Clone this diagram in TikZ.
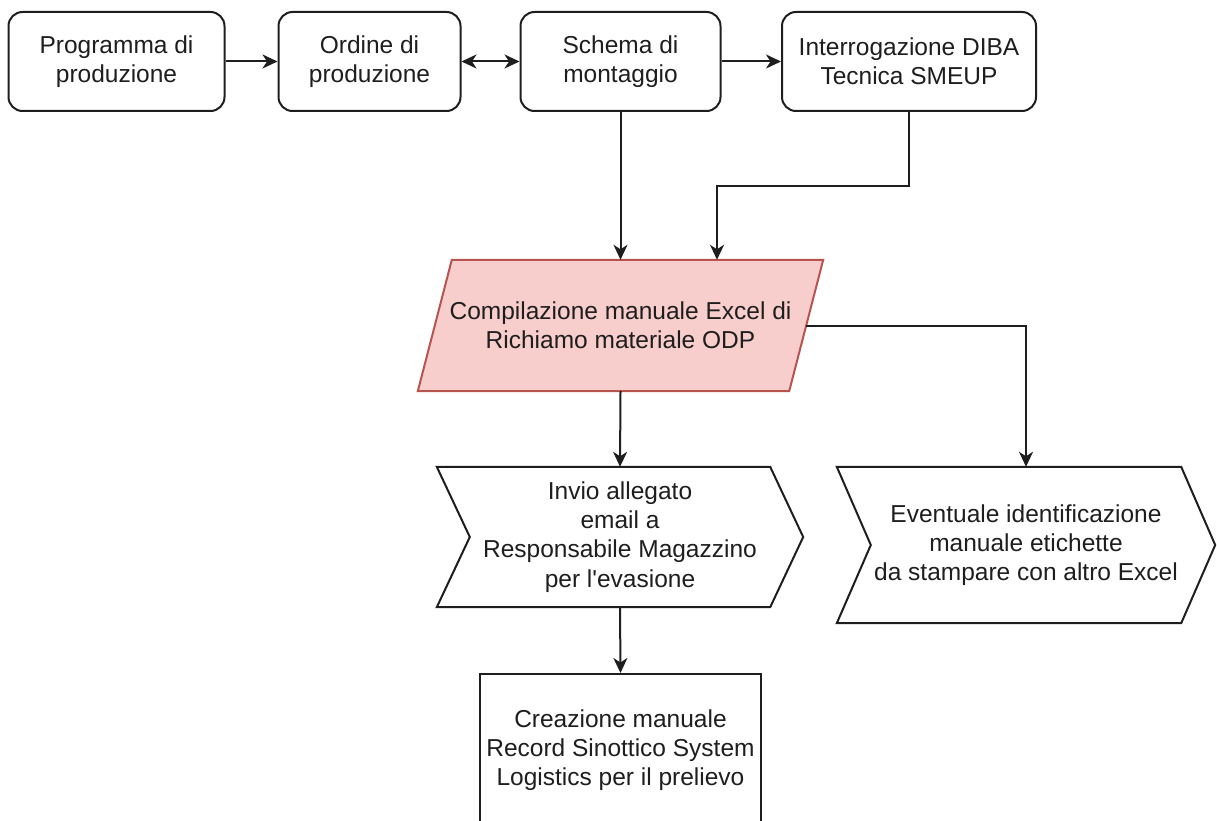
\documentclass[tikz,border=0pt]{standalone}
\usepackage{fontspec}
\setmainfont{Liberation Sans}[Ligatures=TeXOff]
\usetikzlibrary{arrows.meta}
\definecolor{ink}{HTML}{1E1E1E}
\definecolor{redfill}{HTML}{F8CECC}
\definecolor{redline}{HTML}{B85450}

\begin{document}
\begin{tikzpicture}[x=1pt,y=-1pt,
  lbl/.style={align=center, inner sep=0pt, text=ink,
              font=\fontsize{24.5}{29.3}\selectfont},
  procbox/.style={lbl, draw=ink, line width=2pt, rounded corners=14pt,
                  minimum height=99pt},
  plainbox/.style={lbl, minimum width=#1},
  outline/.style={draw=ink, line width=2pt, line join=miter},
  link/.style={draw=ink, line width=2pt, -{Stealth[length=15pt, width=14pt, inset=4.5pt]}},
  twoway/.style={draw=ink, line width=2pt,
               {Stealth[length=15pt, width=14pt, inset=4.5pt]}-{Stealth[length=15pt, width=14pt, inset=4.5pt]}}
]
\useasboundingbox (0,0) rectangle (1217,821);
\clip (0,0) rectangle (1217,821);

% top row of process boxes
\node[procbox, minimum width=216pt] (prog) at (116.5,61.5) {Programma di\\produzione};
\node[procbox, minimum width=182pt] (ordine) at (369.5,61.5) {Ordine di\\produzione};
\node[procbox, minimum width=200pt] (schema) at (620.5,61.5) {Schema di\\montaggio};
\node[procbox, minimum width=254pt] (diba) at (909,61.5) {Interrogazione DIBA\\Tecnica SMEUP};

% manual Excel compilation (parallelogram)
\coordinate (excelc) at (620.5,325.5);
\node[plainbox=405pt, minimum height=131pt] (excel) at (excelc) {};
\draw[fill=redfill, draw=redline, line width=2pt, line join=miter]
  ([xshift=34pt]excel.north west) -- (excel.north east)
  -- ([xshift=-34pt]excel.south east) -- (excel.south west) -- cycle;
\node[lbl] (exceltext) at (excelc) {Compilazione manuale Excel di\\Richiamo materiale ODP};
\coordinate (excelright) at ([xshift=-17pt]excel.east);

% e-mail step (chevron)
\node[plainbox=366pt, minimum height=140pt] (invio) at (620,537)
  {Invio allegato\\email a\\Responsabile Magazzino\\per l'evasione};
\draw[outline] (invio.north west) -- ([xshift=-33pt]invio.north east)
  -- (invio.east) -- ([xshift=-33pt]invio.south east) -- (invio.south west)
  -- ([xshift=33pt]invio.west) -- cycle;

% label step (chevron)
\node[plainbox=378pt, minimum height=156pt] (etich) at (1026,545)
  {Eventuale identificazione\\manuale etichette\\da stampare con altro Excel};
\draw[outline] (etich.north west) -- ([xshift=-34pt]etich.north east)
  -- (etich.east) -- ([xshift=-34pt]etich.south east) -- (etich.south west)
  -- ([xshift=34pt]etich.west) -- cycle;

% record creation
\node[lbl, draw=ink, line width=2pt, minimum width=281pt, minimum height=152pt]
  (record) at (620.5,750)
  {Creazione manuale\\Record Sinottico System\\Logistics per il prelievo};

% connectors
\draw[link] (prog) -- (ordine);
\draw[twoway] (ordine) -- (schema);
\draw[link] (schema) -- (diba);
\draw[link] (schema.south) -- (excel.north);
\draw[link] (diba.south) -- ++(0,74) -| ([xshift=96.5pt]excel.north);
\draw[link] (excelright) -| (etich.north);
\draw[link] (excel.south) -- (invio.north);
\draw[link] (invio.south) -- (record.north);
\end{tikzpicture}
\end{document}
